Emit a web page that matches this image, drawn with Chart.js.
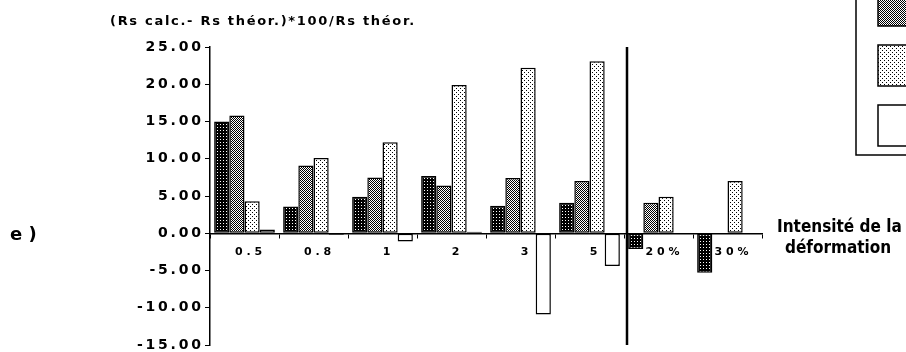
<!DOCTYPE html>
<html>
<head>
<meta charset="utf-8">
<script src="https://cdn.jsdelivr.net/npm/chart.js@4.4.1/dist/chart.umd.min.js"></script>
<style>
  html, body { margin: 0; padding: 0; background: #fff; }
  canvas { display: block; }
</style>
</head>
<body>
<canvas id="c" width="906" height="352"></canvas>
<script>
// données lues sur la figure e)
const categories = ['0 . 5', '0 . 8', '1', '2', '3', '5', '2 0 %', '3 0 %'];
const serie1 = [15.0, 3.6, 4.9, 7.7, 3.7, 4.1, -2.1, -5.3];
const serie2 = [15.8, 9.1, 7.5, 6.4, 7.4, 7.0, 4.1, 0];
const serie3 = [4.3, 10.1, 12.2, 19.9, 22.2, 23.1, 4.9, 7.0];
const serie4 = [0.5, -0.2, -1.1, 0.2, -10.9, -4.4, 0, 0];
const yTicks = [-15, -10, -5, 0, 5, 10, 15, 20, 25];

const canvas = document.getElementById('c');
const ctx = canvas.getContext('2d');

// petites trames pour imiter les hachures
function makePattern(size, bg, fg, pts) {
    const c = document.createElement('canvas');
    c.width = c.height = size;
    const g = c.getContext('2d');
    g.fillStyle = bg; g.fillRect(0, 0, size, size);
    g.fillStyle = fg;
    pts.forEach(p => g.fillRect(p[0], p[1], 1, 1));
    return ctx.createPattern(c, 'repeat');
}
const patDark = makePattern(3, '#000', '#fff', [[1, 1]]);
const patMid = makePattern(2, '#fff', '#000', [[0, 0], [1, 1]]);
const patLight = makePattern(4, '#fff', '#000', [[0, 0], [2, 2]]);

const thin = '\u2009';
const spaced = s => s.split('').join(thin);

const decorPlugin = {
    id: 'decor',
    afterDraw(chart) {
        const c = chart.ctx, xs = chart.scales.x, ys = chart.scales.y;
        c.save();
        c.fillStyle = '#000';
        c.textBaseline = 'middle';
        c.textAlign = 'left';

        c.font = 'bold 13px "DejaVu Sans"';
        c.letterSpacing = '1.7px';
        c.fillText('(Rs calc.- Rs théor.)*100/Rs théor.', 110, 22);
        c.letterSpacing = '0px';

        c.font = 'bold 18px "DejaVu Sans"';
        c.fillText('e ' + ')', 10, 235);

        c.font = 'bold 17px "DejaVu Sans Condensed"';
        c.fillText('Intensité de la', 777, 228);
        c.fillText('déformation', 785, 249);

        // trait vertical entre « 5 » et « 20 % »
        const xv = (xs.getPixelForValue(5) + xs.getPixelForValue(6)) / 2 + 3;
        c.strokeStyle = '#000';
        c.lineWidth = 2.5;
        c.beginPath();
        c.moveTo(xv, ys.top);
        c.lineTo(xv, ys.bottom);
        c.stroke();

        // légende (coupée par le bord de l'image)
        c.lineWidth = 1.5;
        c.strokeRect(856, -200, 200, 355);
        chart.data.datasets.forEach((ds, i) => {
            const top = 105 - (3 - i) * 60;
            c.fillStyle = ds.backgroundColor;
            c.fillRect(878, top, 40, 41);
            c.strokeRect(878, top, 40, 41);
        });
        c.restore();
    }
};

new Chart(canvas, {
    type: 'bar',
    data: {
        labels: categories,
        datasets: [
            { label: 'série 1', data: serie1, backgroundColor: patDark },
            { label: 'série 2', data: serie2, backgroundColor: patMid },
            { label: 'série 3', data: serie3, backgroundColor: patLight },
            { label: 'série 4', data: serie4, backgroundColor: '#fff' }
        ]
    },
    options: {
        responsive: false,
        animation: false,
        events: [],
        datasets: {
            bar: { borderColor: '#000', borderWidth: 1.5, borderSkipped: false, categoryPercentage: 0.88, barPercentage: 1.0 }
        },
        layout: { padding: { top: 47, right: 144, bottom: 7, left: 0 } },
        plugins: { legend: { display: false }, tooltip: { enabled: false } },
        scales: {
            x: {
                position: { y: 0 },
                grid: { display: true, drawOnChartArea: false, tickLength: 4, color: '#000', offset: true },
                border: { color: '#000', width: 1.5 },
                ticks: { color: '#000', font: { family: 'DejaVu Sans', size: 11, weight: 'bold' }, padding: 8, labelOffset: 4, maxRotation: 0, autoSkip: false }
            },
            y: {
                min: -15, max: 25,
                afterBuildTicks: s => { s.ticks = yTicks.map(v => ({ value: v })); },
                afterFit: s => { s.width = 210; s.paddingTop = 0; s.paddingBottom = 0; },
                grid: { display: true, drawOnChartArea: false, tickLength: 5, color: '#000' },
                border: { color: '#000', width: 1.5 },
                ticks: { color: '#000', font: { family: 'DejaVu Sans', size: 14, weight: 'bold' }, padding: 4, callback: v => spaced(v.toFixed(2)) }
            }
        }
    },
    plugins: [decorPlugin]
});
</script>
</body>
</html>
